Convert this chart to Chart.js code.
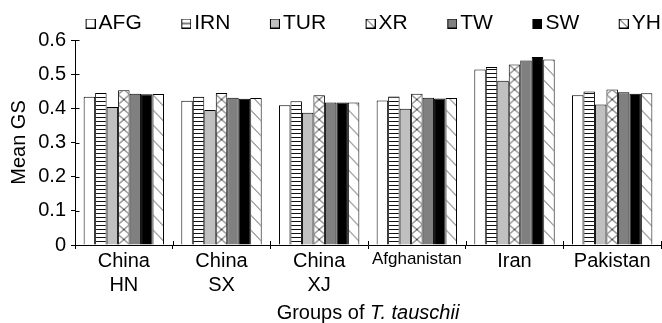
<!DOCTYPE html>
<html><head><meta charset="utf-8">
<script src="https://cdn.jsdelivr.net/npm/chart.js@4.4.1/dist/chart.umd.min.js"></script>
<style>html,body{margin:0;padding:0;background:#fff}#wrap{width:662px;height:323px;position:relative}</style>
</head><body><div id="wrap"><canvas id="c"></canvas></div>
<script>
// ---- data ----
const categories = [['China','HN'],['China','SX'],['China','XJ'],'Afghanistan','Iran','Pakistan'];
const seriesNames = ['AFG','IRN','TUR','XR','TW','SW','YH'];
const AFG = [0.434,0.422,0.409,0.423,0.514,0.438];
const IRN = [0.445,0.434,0.421,0.435,0.521,0.449];
const TUR = [0.404,0.395,0.387,0.399,0.481,0.411];
const XR  = [0.453,0.445,0.438,0.443,0.528,0.455];
const TW  = [0.443,0.431,0.417,0.431,0.540,0.447];
const SW  = [0.441,0.428,0.417,0.429,0.550,0.443];
const YH  = [0.442,0.430,0.417,0.430,0.543,0.444];
const yTicks = [0,0.1,0.2,0.3,0.4,0.5,0.6];
const yTitle = 'Mean GS';
const xTitleMain = 'Groups of ';
const xTitleItalic = 'T. tauschii';

const FAM = '"Liberation Sans", Arial, Helvetica, sans-serif';

function hasFont(name){
  const c=document.createElement('canvas').getContext('2d');
  c.font='20px monospace'; const a=c.measureText('Afghanistan').width;
  c.font='20px "'+name+'", monospace'; return Math.abs(c.measureText('Afghanistan').width-a)>0.5;
}
const narrowFam = hasFont('Liberation Sans Narrow') ? '"Liberation Sans Narrow"' : (hasFont('Arial Narrow') ? '"Arial Narrow"' : null);

// ---- pattern tiles ----
function tile(w,h,draw){const c=document.createElement('canvas');c.width=w;c.height=h;const g=c.getContext('2d');draw(g,w,h);return c;}
const tileIRN = tile(4,4,(g)=>{g.fillStyle='#fff';g.fillRect(0,0,4,4);g.fillStyle='#111';g.fillRect(0,0,4,1);});
const tileXR = tile(12,20,(g,w,h)=>{g.fillStyle='#fff';g.fillRect(0,0,w,h);g.strokeStyle='#333';g.lineWidth=1;
  g.beginPath();g.moveTo(w,0);g.lineTo(0,10);g.lineTo(w,20);g.moveTo(0,0);g.lineTo(w,10);g.lineTo(0,20);g.stroke();});
const tileYH = tile(12,15,(g,w,h)=>{g.fillStyle='#fff';g.fillRect(0,0,w,h);g.strokeStyle='#555';g.lineWidth=1;
  g.beginPath();g.moveTo(0,0);g.lineTo(w,w);g.stroke();});
const pc = document.createElement('canvas').getContext('2d');
function makePattern(kind, left, base, w){
  let p;
  if(kind==='IRN'){p=pc.createPattern(tileIRN,'repeat');p.setTransform(new DOMMatrix([1,0,0,1,0,Math.round(base)]));}
  else if(kind==='XR'){p=pc.createPattern(tileXR,'repeat');p.setTransform(new DOMMatrix([w/12,0,0,1,left,base]));}
  else {p=pc.createPattern(tileYH,'repeat');p.setTransform(new DOMMatrix([w/12,0,0,1,left,base]));}
  return p;
}

// ---- legend images ----
function legendImg(fill, mark){
  return tile(25,10,(g)=>{g.fillStyle=fill;g.fillRect(15,0,10,10);g.strokeStyle='#000';g.lineWidth=1;
    if(mark==='h'){g.beginPath();g.moveTo(15,5);g.lineTo(25,5);g.stroke();}
    if(mark==='d'){g.strokeStyle='#333';g.beginPath();g.moveTo(15,0);g.lineTo(25,10);g.stroke();g.strokeStyle='#000';}
    g.strokeRect(15.5,0.5,9,9);});
}
const legendImgs = [legendImg('#fff'),legendImg('#fff','h'),legendImg('#c0c0c0'),legendImg('#fff','d'),legendImg('#808080'),legendImg('#000'),legendImg('#fff','d')];

const fills = ['#ffffff','#ffffff','#c0c0c0','#ffffff','#808080','#000000','#ffffff'];
const patterns = [null,'IRN',null,'XR',null,null,'YH'];
const seriesData = [AFG,IRN,TUR,XR,TW,SW,YH];

const patternPlugin = {
  id:'patternFill',
  afterDatasetsUpdate(chart){
    chart.data.datasets.forEach((ds,i)=>{
      if(!ds.patternKind) return;
      chart.getDatasetMeta(i).data.forEach(el=>{
        const w=el.width, left=el.x-w/2;
        el.options = Object.assign({}, el.options, {backgroundColor: makePattern(ds.patternKind,left,el.base,w)});
      });
    });
  }
};
const legendShift = {
  id:'legendShift',
  afterLayout(chart){
    const lg=chart.legend; if(!lg) return;
    lg.left+=39; lg.right+=39; lg.top-=19; lg.bottom+=30;
  }
};
const extras = {
  id:'extras',
  afterDraw(chart){
    const {ctx, chartArea:a, scales:{x,y}} = chart;
    ctx.save();
    ctx.strokeStyle='#000'; ctx.lineWidth=1; ctx.beginPath();
    const ax=Math.round(a.left)+0.5;
    yTicks.forEach(v=>{const py=Math.round(y.getPixelForValue(v))+0.5;ctx.moveTo(ax,py);ctx.lineTo(ax+4,py);});
    const n=categories.length;
    for(let i=0;i<=n;i++){const px=Math.round(x.left+i*x.width/n)+0.5;const by=Math.round(a.bottom);ctx.moveTo(px,by);ctx.lineTo(px,by-4);}
    ctx.stroke();
    // x title with italic species name
    ctx.fillStyle='#000'; ctx.textBaseline='alphabetic'; ctx.textAlign='left';
    const f1='20px '+FAM, f2='italic 20px '+FAM;
    ctx.font=f1; const w1=ctx.measureText(xTitleMain).width;
    ctx.font=f2; const w2=ctx.measureText(xTitleItalic).width;
    const sx=(a.left+a.right)/2-(w1+w2)/2, by=chart.height-4;
    ctx.font=f1; ctx.fillText(xTitleMain,sx,by);
    ctx.font=f2; ctx.fillText(xTitleItalic,sx+w1,by);
    ctx.restore();
  }
};

new Chart(document.getElementById('c'), {
  type:'bar',
  data:{
    labels: categories,
    datasets: seriesNames.map((n,i)=>({
      label:n, data:seriesData[i], backgroundColor:fills[i], patternKind:patterns[i],
      borderColor:'#000', borderWidth:1, borderSkipped:'start',
      barPercentage:1.0, categoryPercentage:0.823
    }))
  },
  options:{
    responsive:true, maintainAspectRatio:false, animation:false, devicePixelRatio:1,
    layout:{padding:{left:0,right:1,top:0,bottom:0}},
    plugins:{
      tooltip:{enabled:false},
      legend:{
        position:'top', align:'center', maxHeight:40,
        labels:{
          usePointStyle:true, boxWidth:10, boxHeight:10, padding:32,
          font:{size:21, family:FAM}, color:'#000',
          generateLabels:()=>seriesNames.map((n,i)=>({text:n, pointStyle:legendImgs[i], fillStyle:'#fff', strokeStyle:'#000', lineWidth:0, hidden:false, datasetIndex:i, fontColor:'#000'}))
        }
      }
    },
    scales:{
      x:{
        afterFit:(s)=>{s.height=78;},
        ticks:{color:'#000', padding:0, maxRotation:0, autoSkip:false,
          font:(c)=> (c.index===3) ? (narrowFam?{size:20,family:narrowFam}:{size:17,family:FAM}) : {size:20,family:FAM}},
        grid:{drawOnChartArea:false, tickLength:4, color:'#000', offset:true},
        border:{color:'#000', width:1}
      },
      y:{
        min:0, max:0.6,
        afterFit:(s)=>{s.width=75;},
        afterBuildTicks:(s)=>{s.ticks=yTicks.map(v=>({value:v}));},
        ticks:{color:'#000', padding:5, font:{size:20,family:FAM}, callback:(v)=> v===0?'0':Number(v).toFixed(1)},
        grid:{drawOnChartArea:false, tickLength:4, color:'#000'},
        border:{color:'#000', width:1},
        title:{display:true, text:yTitle, color:'#000', font:{size:20,family:FAM}, padding:{top:7,bottom:0}}
      }
    }
  },
  plugins:[patternPlugin, legendShift, extras]
});
</script>
</body></html>
